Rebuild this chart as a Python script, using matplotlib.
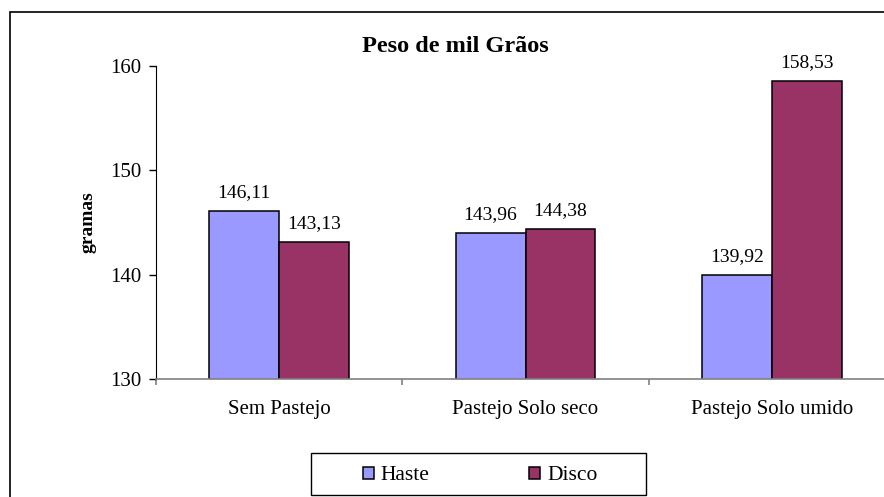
import matplotlib
matplotlib.use("Agg")
import matplotlib.pyplot as plt
import numpy as np
from matplotlib.patches import Rectangle

# data
categories = ["Sem Pastejo", "Pastejo Solo seco", "Pastejo Solo umido"]
haste = [146.11, 143.96, 139.92]
disco = [143.13, 144.38, 158.53]
series_names = ["Haste", "Disco"]
yticks = [130, 140, 150, 160]

HASTE_COLOR = "#9999FF"
DISCO_COLOR = "#993366"
AXIS_GRAY = "#808080"
W, H, DPI = 884, 497, 100

plt.rcParams["font.family"] = ["Liberation Serif", "DejaVu Serif"]

fig = plt.figure(figsize=(W / DPI, H / DPI), dpi=DPI)

# outer chart border (Excel style)
fig.patches.append(Rectangle((10 / W, -0.1), 1.2, 1 - 12 / H + 0.1,
                             transform=fig.transFigure, fill=False,
                             edgecolor="black", lw=1.2))

ax = fig.add_axes([156 / W, 118 / H, 739 / W, 313.3 / H])

x = np.arange(len(categories))
bw = 0.284
b1 = ax.bar(x - bw / 2, haste, bw, color=HASTE_COLOR,
            edgecolor="black", lw=1.1, label=series_names[0])
b2 = ax.bar(x + bw / 2, disco, bw, color=DISCO_COLOR,
            edgecolor="black", lw=1.1, label=series_names[1])

for bars, vals in ((b1, haste), (b2, disco)):
    for rect, v in zip(bars, vals):
        ax.annotate(f"{v:.2f}".replace(".", ","),
                    (rect.get_x() + rect.get_width() / 2, v),
                    xytext=(0, 10), textcoords="offset points",
                    ha="center", va="baseline", fontsize=14)

ax.set_ylim(130, 160)
ax.set_xlim(-0.5, 2.5)
ax.set_yticks(yticks)
ax.set_yticklabels([str(t) for t in yticks], fontsize=15)
ax.set_xticks(x)
ax.set_xticklabels(categories, fontsize=15)
ax.set_xticks(np.arange(-0.5, len(categories)), minor=True)
ax.tick_params(axis="x", which="major", length=0, pad=15)
ax.tick_params(axis="x", which="minor", length=4.5, width=1.2,
               color=AXIS_GRAY, direction="out")
ax.tick_params(axis="y", length=5, width=1, direction="out", pad=5.5)

for side in ("top", "right"):
    ax.spines[side].set_visible(False)
ax.spines["left"].set_color("black")
ax.spines["bottom"].set_color(AXIS_GRAY)
ax.spines["bottom"].set_linewidth(1.2)

ax.set_ylabel("gramas", fontsize=14, fontweight="bold", labelpad=10)

fig.text(455 / W, 1 - 47 / H, "Peso de mil Grãos", ha="center", va="center",
         fontsize=17.5, fontweight="bold")

# legend: frame drawn separately so the entries sit centred inside it
fig.patches.append(Rectangle((311 / W, 2 / H), 335 / W, 42 / H,
                             transform=fig.transFigure, fill=False,
                             edgecolor="black", lw=1.0))
leg = fig.legend(handles=[b1, b2], labels=series_names,
                 loc="center", bbox_to_anchor=(480 / W, 1 - 476 / H),
                 ncol=2, fontsize=15.5, frameon=False,
                 handlelength=0.52, handleheight=0.52, handletextpad=0.33,
                 columnspacing=4.6, borderaxespad=0, borderpad=0)

fig.savefig("out.png", dpi=DPI)
